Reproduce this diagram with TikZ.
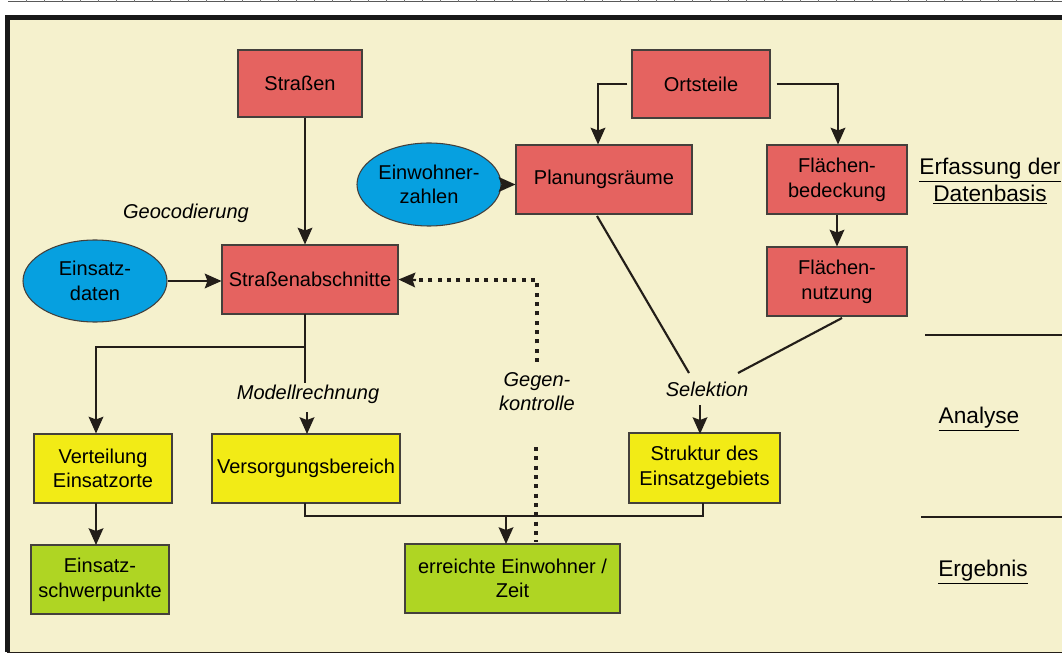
\documentclass[tikz,border=0pt]{standalone}
\usepackage{fontspec}
\setmainfont{Liberation Sans}
\usetikzlibrary{arrows.meta,shapes.geometric}
\definecolor{bg}{RGB}{245,241,205}
\definecolor{rbox}{RGB}{229,99,96}
\definecolor{bbox}{RGB}{6,160,224}
\definecolor{ybox}{RGB}{242,235,22}
\definecolor{gbox}{RGB}{175,213,35}
\definecolor{ln}{RGB}{35,30,25}
\begin{document}
\begin{tikzpicture}[x=0.75pt,y=-0.75pt,
  every node/.style={font=\fontsize{15}{18.5}\selectfont, text=black, inner sep=0pt, align=center},
  wh/.style 2 args={minimum width=#1*0.75pt, minimum height=#2*0.75pt},
  boxline/.style={draw=ln!85, line width=0.8pt},
  redbox/.style={rectangle, boxline, fill=rbox},
  ylwbox/.style={rectangle, boxline, fill=ybox},
  grnbox/.style={rectangle, boxline, fill=gbox},
  bluell/.style={ellipse, boxline, fill=bbox},
  conn/.style={line width=1.6pt, draw=ln},
  tip/.style={-{Stealth[length=12.5pt,width=11pt,inset=2pt]}},
  arr/.style={conn, tip},
  dots/.style={line width=2.4pt, draw=ln, dash pattern=on 3pt off 4pt},
  lbl/.style={font=\fontsize{15}{18}\selectfont\itshape},
  side/.style={font=\fontsize{17}{20}\selectfont},
  sep/.style={line width=1pt, draw=ln}
]
\useasboundingbox (0,0) rectangle (1062,655);
% top ruler line
\draw[line width=0.6pt, black!65] (8,1.5) -- (1062,1.5);
\foreach \x in {26,44,...,1062} \draw[line width=0.4pt, black!55] (\x,0) -- (\x,2.5);
% frame
\fill[bg] (9,19) rectangle (1062,652);
\draw[line width=3.75pt, black!90] (7,652) -- (7,17.5) -- (1062,17.5);
\draw[line width=1.2pt, ln] (7,652.5) -- (1062,652.5);

% nodes
\node[redbox, wh={124}{67}] (strassen) at (300,83.5) {Straßen};
\node[redbox, wh={138}{68}] (ortsteile) at (701,84) {Ortsteile};
\node[redbox, wh={176}{69}] (planung) at (604,179.5) {Planungsräume};
\node[redbox, wh={140}{69}] (flbed) at (837,179.5) {Flächen-\\bedeckung};
\node[redbox, wh={140}{69}] (flnutz) at (837,281.5) {Flächen-\\nutzung};
\node[redbox, wh={176}{69}] (abschn) at (310,279.5) {Straßenabschnitte};
\node[bluell, wh={144}{83}] (ewz) at (429,184.5) {Einwohner-\\zahlen};
\node[bluell, wh={144}{82}] (einsatz) at (95,281) {Einsatz-\\daten};
\node[ylwbox, wh={138}{69}] (verteil) at (103,468.5) {Verteilung\\Einsatzorte};
\node[ylwbox, wh={188}{69}] (versorg) at (306,468.5) {Versorgungsbereich};
\node[ylwbox, wh={151}{70}] (struktur) at (704.5,468) {Struktur des\\Einsatzgebiets};
\node[grnbox, wh={138}{69}] (schwer) at (100,579.5) {Einsatz-\\schwerpunkte};
\node[grnbox, wh={215}{69}] (erreicht) at (512.5,578.5) {erreichte Einwohner /\\Zeit};

% labels
\node[lbl] (geo) at (186,213) {Geocodierung};
\node[lbl] (modell) at (308,394) {Modellrechnung};
\node[lbl, align=center] (gegen) at (537,392) {Gegen-\\kontrolle};
\node[lbl] (selek) at (707,389) {Selektion};

% side labels
\node[side] (erf) at (990,181) {\underline{Erfassung der}\\\underline{Datenbasis}};
\node[side] (ana) at (979,419) {\underline{Analyse}};
\node[side] (erg) at (983,572) {\underline{Ergebnis}};
\coordinate (s1a) at (925,335); \coordinate (s1b) at (1062,335);
\coordinate (s2a) at (921,517); \coordinate (s2b) at (1062,517);
\draw[sep] (s1a) -- (s1b);
\draw[sep] (s2a) -- (s2b);

% connectors
\draw[arr] ([xshift=3.75pt]strassen.south) -- ([xshift=-3.75pt]abschn.north);
\draw[arr] (einsatz.east) -- (einsatz.east -| abschn.west);
\draw[arr] (ewz.east) -- (ewz.east -| planung.west);

\coordinate (abot) at (305,314);
\coordinate (br) at (305,347);
\coordinate (brl) at (96,347);
\coordinate (amid) at (305,383);
\draw[conn] (abot) -- (amid);
\draw[arr] (br) -- (brl) -- (brl |- verteil.north);
\draw[arr] (307,412) -- (307,434);
\draw[arr] (96,503) -- (96,545);

% Ortsteile branches
\coordinate (oL) at (598,84);
\coordinate (oR) at (838,84);
\draw[arr] ([xshift=-3pt]ortsteile.west) -- (oL) -- (oL |- planung.north);
\draw[arr] ([xshift=4.5pt]ortsteile.east) -- (oR) -- (oR |- flbed.north);
\draw[arr] (flbed.south) -- (flnutz.north);

% Selektion
\coordinate (p1) at (597,216);
\coordinate (p2) at (689,373);
\coordinate (f1) at (842,318);
\coordinate (f2) at (738,373);
\draw[conn] (p1) -- (p2);
\draw[conn] (f1) -- (f2);
\draw[arr] (700,405) -- (700,434);

% merge to erreicht
\coordinate (m1) at (305,503);
\coordinate (m2) at (305,516);
\coordinate (m3) at (703,516);
\coordinate (m4) at (703,503);
\draw[conn] (m1) -- (m2) -- (m3) -- (m4);
\draw[arr] (506,516) -- (506,544);

% Gegenkontrolle dotted
\coordinate (g1) at (537,362);
\coordinate (g2) at (537,280);
\coordinate (g3) at (536,447);
\coordinate (g4) at (536,542);
\coordinate (g5) at (416,280);
\draw[dots] (g1) -- (g2) -- (g5);
\draw[conn, tip] (g5) -- (abschn.east);
\draw[dots] (g3) -- (g4);
\end{tikzpicture}
\end{document}
